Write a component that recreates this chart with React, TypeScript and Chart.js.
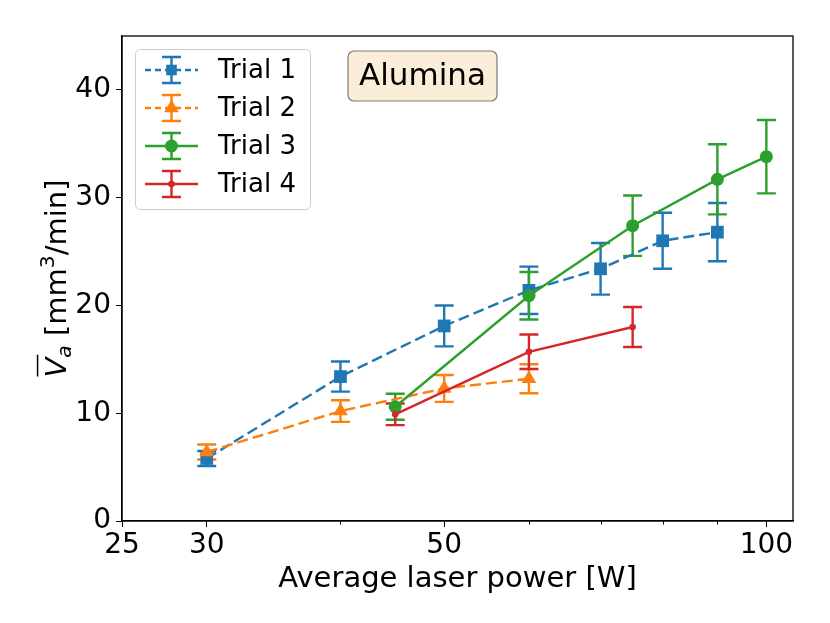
import React, { useEffect, useRef } from 'react';
import { Chart, registerables } from 'chart.js';
import { drawPoint } from 'chart.js/helpers';

Chart.register(...registerables);

// laser power [W] and removal rate [mm3/min] per trial, with error bar half-widths
const trial1Power = [30, 40, 50, 60, 70, 80, 90];
const trial1Rate = [5.8, 13.4, 18.1, 21.4, 23.4, 26.0, 26.8];
const trial1Err = [0.7, 1.4, 1.9, 2.2, 2.4, 2.6, 2.7];

const trial2Power = [30, 40, 50, 60];
const trial2Rate = [6.4, 10.2, 12.3, 13.2];
const trial2Err = [0.7, 1.0, 1.25, 1.35];

const trial3Power = [45, 60, 75, 90, 100];
const trial3Rate = [10.6, 20.9, 27.4, 31.7, 33.8];
const trial3Err = [1.2, 2.2, 2.8, 3.25, 3.4];

const trial4Power = [45, 60, 75];
const trial4Rate = [9.9, 15.7, 18.0];
const trial4Err = [1.0, 1.6, 1.85];

const xTicks = [25, 30, 40, 50, 60, 70, 80, 90, 100];
const xLabeled = [25, 30, 50, 100];
const yTicks = [0, 10, 20, 30, 40];

const FONT = '"DejaVu Sans", sans-serif';

const series = [
  { label: 'Trial 1', x: trial1Power, y: trial1Rate, err: trial1Err, color: '#1f77b4', dash: [11, 5], style: 'rect', radius: 9 },
  { label: 'Trial 2', x: trial2Power, y: trial2Rate, err: trial2Err, color: '#ff7f0e', dash: [11, 5], style: 'triangle', radius: 8.5 },
  { label: 'Trial 3', x: trial3Power, y: trial3Rate, err: trial3Err, color: '#2ca02c', dash: [], style: 'circle', radius: 6.5 },
  { label: 'Trial 4', x: trial4Power, y: trial4Rate, err: trial4Err, color: '#d62728', dash: [], style: 'circle', radius: 3.3 },
];

const LINE_W = 2.4;
const CAP = 9.5;

const errorBars = {
  id: 'errorBars',
  beforeDatasetsDraw(chart: any) {
    const { ctx } = chart;
    const ys = chart.scales.y;
    const xs = chart.scales.x;
    ctx.save();
    ctx.lineWidth = LINE_W;
    series.forEach((s) => {
      ctx.strokeStyle = s.color;
      s.x.forEach((xv, i) => {
        const px = xs.getPixelForValue(xv);
        const top = ys.getPixelForValue(s.y[i] + s.err[i]);
        const bot = ys.getPixelForValue(s.y[i] - s.err[i]);
        ctx.beginPath();
        ctx.moveTo(px, top);
        ctx.lineTo(px, bot);
        ctx.moveTo(px - CAP, top);
        ctx.lineTo(px + CAP, top);
        ctx.moveTo(px - CAP, bot);
        ctx.lineTo(px + CAP, bot);
        ctx.stroke();
      });
    });
    ctx.restore();
  },
};

const decorations = {
  id: 'decorations',
  afterDraw(chart: any) {
    const { ctx, chartArea } = chart;
    const { left, right, top, bottom } = chartArea;
    const xs = chart.scales.x;
    ctx.save();

    // frame
    ctx.strokeStyle = '#000';
    ctx.lineWidth = 1.3;
    ctx.strokeRect(left, top, right - left, bottom - top);

    // minor ticks on the log axis
    ctx.lineWidth = 1;
    xTicks.filter((v) => !xLabeled.includes(v)).forEach((v) => {
      const px = Math.round(xs.getPixelForValue(v)) + 0.5;
      ctx.beginPath();
      ctx.moveTo(px, bottom);
      ctx.lineTo(px, bottom + 3.5);
      ctx.stroke();
    });

    // y axis title: overline V, subscript a, superscript 3
    const fs = 29;
    const pieces = [
      { t: 'V', f: `italic ${fs}px ${FONT}`, dy: 0 },
      { t: 'a', f: `italic ${fs * 0.7}px ${FONT}`, dy: fs * 0.18 },
      { t: ' [mm', f: `${fs}px ${FONT}`, dy: 0 },
      { t: '3', f: `${fs * 0.7}px ${FONT}`, dy: -fs * 0.4 },
      { t: '/min]', f: `${fs}px ${FONT}`, dy: 0 },
    ];
    let total = 0;
    const widths = pieces.map((p) => {
      ctx.font = p.f;
      const w = ctx.measureText(p.t).width;
      total += w;
      return w;
    });
    ctx.translate(66, (top + bottom) / 2);
    ctx.rotate(-Math.PI / 2);
    ctx.fillStyle = '#000';
    ctx.textBaseline = 'alphabetic';
    ctx.textAlign = 'left';
    let cx = -total / 2;
    pieces.forEach((p, i) => {
      ctx.font = p.f;
      ctx.fillText(p.t, cx, p.dy);
      if (i === 0) {
        ctx.lineWidth = 1.5;
        ctx.beginPath();
        ctx.moveTo(cx + 1, -fs * 0.98);
        ctx.lineTo(cx + widths[0] + 3, -fs * 0.98);
        ctx.stroke();
      }
      cx += widths[i];
    });
    ctx.restore();

    // legend
    ctx.save();
    ctx.beginPath();
    ctx.roundRect(135.5, 49.5, 175, 160, 5);
    ctx.fillStyle = 'rgba(255,255,255,0.8)';
    ctx.fill();
    ctx.strokeStyle = '#cccccc';
    ctx.lineWidth = 1;
    ctx.stroke();
    series.forEach((s, i) => {
      const y = 70 + i * 38;
      const mx = 171.5;
      ctx.strokeStyle = s.color;
      ctx.lineWidth = LINE_W;
      ctx.setLineDash(s.dash.length ? [6, 4] : []);
      ctx.beginPath();
      ctx.moveTo(145, y);
      ctx.lineTo(198, y);
      ctx.stroke();
      ctx.setLineDash([]);
      ctx.beginPath();
      ctx.moveTo(mx, y - 13);
      ctx.lineTo(mx, y + 13);
      ctx.moveTo(mx - CAP, y - 13);
      ctx.lineTo(mx + CAP, y - 13);
      ctx.moveTo(mx - CAP, y + 13);
      ctx.lineTo(mx + CAP, y + 13);
      ctx.stroke();
      ctx.fillStyle = s.color;
      drawPoint(ctx, { pointStyle: s.style, radius: s.style === 'rect' ? 7.5 : s.radius, rotation: 0, borderWidth: 0 }, mx, y);
      ctx.fillStyle = '#000';
      ctx.font = `26px ${FONT}`;
      ctx.textAlign = 'left';
      ctx.textBaseline = 'middle';
      ctx.fillText(s.label, 218, y + 1);
    });

    // material label
    ctx.beginPath();
    ctx.roundRect(348, 51, 149, 50, 6);
    ctx.fillStyle = 'rgba(245,222,179,0.5)';
    ctx.fill();
    ctx.strokeStyle = 'rgba(0,0,0,0.5)';
    ctx.lineWidth = 1.2;
    ctx.stroke();
    ctx.fillStyle = '#000';
    ctx.font = `31px ${FONT}`;
    ctx.textAlign = 'center';
    ctx.textBaseline = 'middle';
    ctx.fillText('Alumina', 422.5, 77);
    ctx.restore();
  },
};

const App: React.FC = () => {
  const canvasRef = useRef<HTMLCanvasElement>(null);
  const chartRef = useRef<Chart | null>(null);

  useEffect(() => {
    document.body.style.margin = '0';
    if (!canvasRef.current) return;
    const ctx = canvasRef.current.getContext('2d');
    if (!ctx) return;

    chartRef.current = new Chart(ctx, {
      type: 'line',
      data: {
        datasets: series.map((s, i) => ({
          label: s.label,
          data: s.x.map((xv, k) => ({ x: xv, y: s.y[k] })),
          borderColor: s.color,
          backgroundColor: s.color,
          borderWidth: LINE_W,
          borderDash: s.dash,
          pointStyle: s.style,
          pointRadius: s.radius,
          pointBorderWidth: 0,
          pointHoverRadius: s.radius,
          tension: 0,
          fill: false,
          order: series.length - i,
        })),
      },
      options: {
        animation: false,
        responsive: true,
        maintainAspectRatio: false,
        events: [],
        layout: { padding: { left: 0, top: 36, right: 37, bottom: 0 } },
        plugins: {
          legend: { display: false },
          tooltip: { enabled: false },
        },
        scales: {
          x: {
            type: 'logarithmic',
            min: 25,
            max: 105.9,
            afterBuildTicks: (scale: any) => {
              scale.ticks = xTicks.map((v) => ({ value: v }));
            },
            afterFit: (scale: any) => {
              scale.height = 102;
            },
            grid: {
              drawOnChartArea: false,
              drawTicks: true,
              tickLength: 6,
              tickColor: (c: any) => (xLabeled.includes(c.tick?.value) ? '#000' : 'rgba(0,0,0,0)'),
            },
            border: { display: true, color: '#000', width: 1.3 },
            ticks: {
              autoSkip: false,
              maxRotation: 0,
              padding: 2,
              color: '#000',
              font: { family: FONT, size: 28 },
              callback: (v: any) => (xLabeled.includes(Number(v)) ? String(v) : ''),
            },
            title: {
              display: true,
              text: 'Average laser power [W]',
              color: '#000',
              font: { family: FONT, size: 29 },
              padding: { top: 0, bottom: 26 },
            },
          },
          y: {
            type: 'linear',
            min: 0,
            max: 45,
            afterBuildTicks: (scale: any) => {
              scale.ticks = yTicks.map((v) => ({ value: v }));
            },
            afterFit: (scale: any) => {
              scale.width = 122;
            },
            grid: { drawOnChartArea: false, drawTicks: true, tickLength: 6, tickColor: '#000' },
            border: { display: true, color: '#000', width: 1.3 },
            ticks: {
              padding: 5,
              color: '#000',
              font: { family: FONT, size: 28 },
              callback: (v: any) => String(v),
            },
          },
        },
      },
      plugins: [errorBars, decorations],
    });

    return () => {
      chartRef.current?.destroy();
      chartRef.current = null;
    };
  }, []);

  return (
    <div style={{ position: 'fixed', left: 0, top: 0, width: 830, height: 623, background: '#fff' }}>
      <canvas ref={canvasRef} />
    </div>
  );
};

export default App;
